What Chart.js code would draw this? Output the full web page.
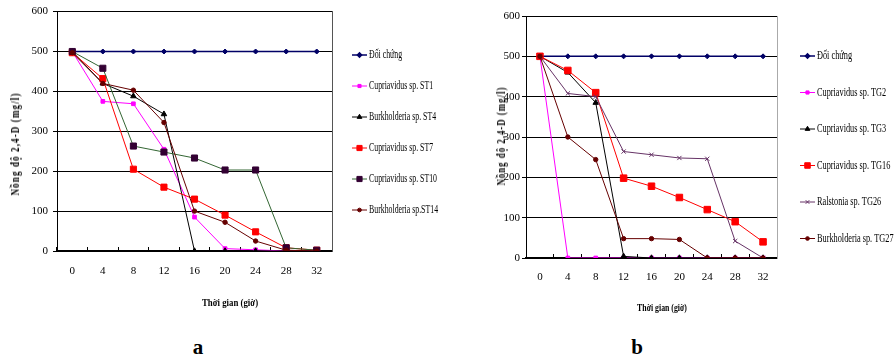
<!DOCTYPE html>
<html>
<head>
<meta charset="utf-8">
<script src="https://cdn.jsdelivr.net/npm/chart.js@4.4.1/dist/chart.umd.min.js"></script>
<style>
  body { margin: 0; background: #fff; width: 895px; height: 360px; position: relative; overflow: hidden;
         font-family: "Liberation Serif", "Times New Roman", serif; color: #000; }
  canvas { position: absolute; top: 0; }
  #chartA { left: 0; }
  #chartB { left: 460px; }
  .lbl { position: absolute; white-space: nowrap; font-weight: bold; line-height: 1; }
</style>
</head>
<body>
<canvas id="chartA" width="460" height="330"></canvas>
<canvas id="chartB" width="435" height="330"></canvas>

<div class="lbl" style="left:15px;top:144px;font-size:12px;letter-spacing:1.5px;transform:translate(-50%,-50%) rotate(-90deg) scaleX(.75)">Nồng độ 2,4-D (mg/l)</div>
<div class="lbl" style="left:501px;top:136px;font-size:12px;letter-spacing:1.5px;transform:translate(-50%,-50%) rotate(-90deg) scaleX(.72)">Nồng độ 2,4-D (mg/l)</div>
<div class="lbl" style="left:230px;top:302px;font-size:11px;transform:translate(-50%,-50%) scaleX(.8)">Thời gian (giờ)</div>
<div class="lbl" style="left:662px;top:308px;font-size:10px;transform:translate(-50%,-50%) scaleX(.78)">Thời gian (giờ)</div>
<div class="lbl" style="left:198px;top:347px;font-size:21px;transform:translate(-50%,-50%)">a</div>
<div class="lbl" style="left:637px;top:347px;font-size:21px;transform:translate(-50%,-50%)">b</div>

<script>
// thời gian (giờ)
const hours = ["0", "4", "8", "12", "16", "20", "24", "28", "32"];
const yMin = 0, yMax = 600, yStep = 100;

// hình a
const namesA = ["Đối chứng", "Cupriavidus sp. ST1", "Burkholderia sp. ST4",
                "Cupriavidus sp. ST7", "Cupriavidus sp. ST10", "Burkholderia sp.ST14"];
const doiChungA = [500, 500, 500, 500, 500, 500, 500, 500, 500];
const st1  = [500, 375, 369, 255, 85, 6, 3, 0, 0];
const st4  = [500, 420, 388, 343, 0, 0, 0, 0, 0];
const st7  = [497, 432, 205, 160, 130, 90, 48, 8, 2];
const st10 = [500, 458, 263, 248, 233, 203, 203, 8, 2];
const st14 = [497, 420, 403, 322, 100, 72, 25, 2, 0];

// hình b
const namesB = ["Đối chứng", "Cupriavidus sp. TG2", "Cupriavidus sp. TG3",
                "Cupriavidus sp. TG16", "Ralstonia sp. TG26", "Burkholderia sp. TG27"];
const doiChungB = [500, 500, 500, 500, 500, 500, 500, 500, 500];
const tg2  = [500, 0, 0, 0, 0, 0, 0, 0, 0];
const tg3  = [500, 460, 385, 4, 0, 0, 0, 0, 0];
const tg16 = [500, 465, 410, 198, 178, 150, 120, 90, 40];
const tg26 = [500, 408, 400, 264, 256, 248, 246, 42, 0];
const tg27 = [500, 300, 244, 48, 48, 46, 0, 0, 0];

const SERIF = "'Liberation Serif', 'Times New Roman', serif";

// look of each series: [line colour, marker fill, marker style, marker radius]
const styleA = [
  ["#000066", "#000066", "rectRot", 2.5],
  ["#ff00ff", "#ff00ff", "rect", 2.6],
  ["#000000", "#000000", "triangle", 3.2],
  ["#ff0000", "#ff0000", "rect", 4.3],
  ["#336633", "#330033", "rect", 4.3],
  ["#660000", "#660000", "circle", 2.2]
];
const styleB = [
  ["#000066", "#000066", "rectRot", 2.5],
  ["#ff00ff", "#ff00ff", "rect", 2.6],
  ["#000000", "#000000", "triangle", 3.2],
  ["#ff0000", "#ff0000", "rect", 4.6],
  ["#663366", "#663366", "crossRot", 3],
  ["#660000", "#660000", "circle", 2.2]
];

function makeSets(names, series, styles){
  return series.map((d, i) => ({
    label: names[i],
    data: d,
    borderColor: styles[i][0],
    borderWidth: i === 0 ? 1.5 : 1,
    pointBackgroundColor: styles[i][1],
    pointBorderColor: styles[i][1],
    pointBorderWidth: 1,
    pointStyle: styles[i][2],
    pointRadius: styles[i][3],
    tension: 0,
    order: -i          // later series on top, like Excel
  }));
}

// legend: short line + marker, squeezed serif text
const lineLegend = {
  id: "lineLegend",
  afterDraw(chart, args, o){
    const ctx = chart.ctx;
    chart.data.datasets.forEach((ds, i) => {
      const x = o.left, y = o.top + i * o.step;
      ctx.save();
      ctx.strokeStyle = ds.borderColor; ctx.lineWidth = ds.borderWidth;
      ctx.beginPath(); ctx.moveTo(x, y); ctx.lineTo(x + 15, y); ctx.stroke();
      ctx.fillStyle = ds.pointBackgroundColor; ctx.strokeStyle = ds.pointBorderColor;
      Chart.helpers.drawPoint(ctx, {pointStyle: ds.pointStyle, radius: ds.pointRadius * 0.85,
                                    rotation: 0, borderWidth: 1}, x + 7.5, y);
      ctx.translate(x + 17, y); ctx.scale(o.squeeze, 1);
      ctx.fillStyle = "#000"; ctx.font = o.font; ctx.textBaseline = "middle";
      ctx.fillText(ds.label, 0, 0);
      ctx.restore();
    });
  }
};

function makeChart(id, names, series, styles, L){
  return new Chart(document.getElementById(id), {
    type: "line",
    data: { labels: hours, datasets: makeSets(names, series, styles) },
    plugins: [lineLegend],
    options: {
      responsive: false, animation: false, devicePixelRatio: 1,
      layout: { padding: { left: 0, top: L.top, right: L.right, bottom: 0 } },
      plugins: {
        legend: { display: false }, tooltip: { enabled: false },
        lineLegend: L.legend
      },
      scales: {
        x: {
          offset: true,
          afterFit: s => { s.height = L.xh; },
          grid: { offset: true, drawOnChartArea: false, tickLength: -4, color: "#000" },
          border: { color: "#000", width: 2 },
          ticks: { color: "#000", padding: L.xpad, font: { family: SERIF, size: 11 } }
        },
        y: {
          min: yMin, max: yMax,
          afterFit: s => { s.width = L.yw; },
          grid: { color: "#000", lineWidth: 1, tickLength: 4 },
          border: { color: "#000", width: 1 },
          ticks: { stepSize: yStep, color: "#000", padding: L.ypad, font: { family: SERIF, size: 11 } }
        },
        y2: {
          position: "right", min: yMin, max: yMax,
          afterFit: s => { s.width = 0; },
          grid: { drawOnChartArea: false, drawTicks: false },
          border: { color: L.frame, width: 1 },
          ticks: { display: false }
        }
      }
    }
  });
}

makeChart("chartA", namesA, [doiChungA, st1, st4, st7, st10, st14], styleA, {
  top: 11, right: 128, xh: 79, yw: 57, xpad: 18, ypad: 5, frame: "#555",
  legend: { left: 352, top: 55, step: 31, squeeze: 0.68, font: "11.5px " + SERIF }
});
makeChart("chartB", namesB, [doiChungB, tg2, tg3, tg16, tg26, tg27], styleB, {
  top: 16, right: 118, xh: 72, yw: 66, xpad: 17, ypad: 2, frame: "#aaa",
  legend: { left: 340, top: 56, step: 36.5, squeeze: 0.69, font: "12px " + SERIF }
});
</script>
</body>
</html>
